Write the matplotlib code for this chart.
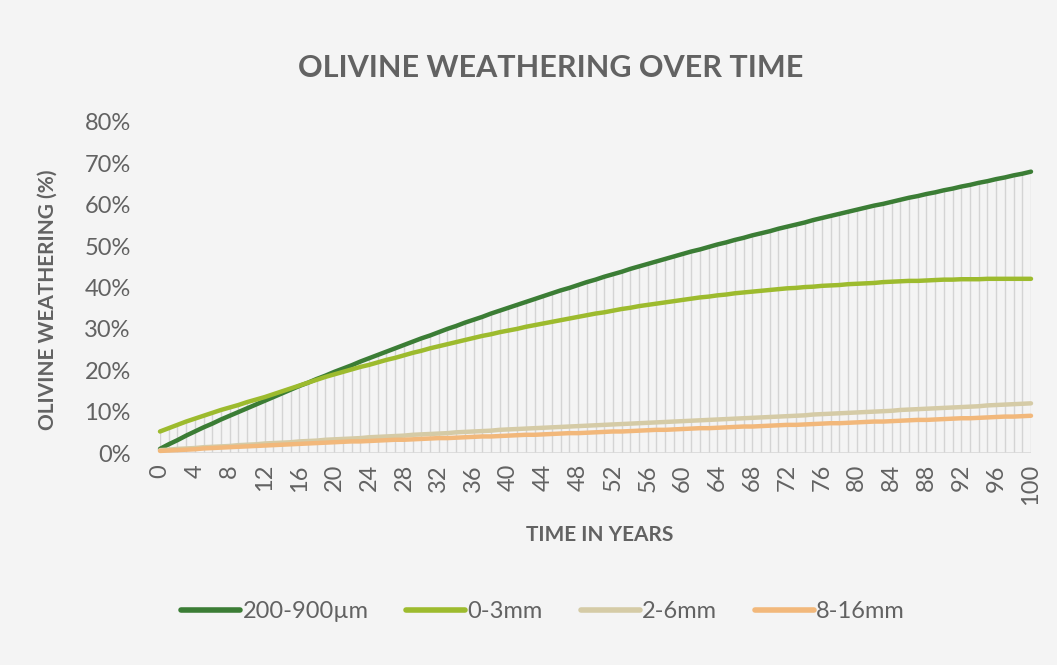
import matplotlib
matplotlib.use('Agg')
from matplotlib import pyplot as plt
from matplotlib.ticker import PercentFormatter

years = list(range(0, 101))

fine_200_900um = [
    1.0, 2.1, 3.1, 4.2, 5.2, 6.2, 7.1, 8.1, 9.0, 9.9,
    10.8, 11.7, 12.6, 13.5, 14.4, 15.3, 16.2, 17.0, 17.9, 18.7,
    19.6, 20.4, 21.2, 22.1, 22.9, 23.7, 24.5, 25.3, 26.1, 26.9,
    27.7, 28.4, 29.2, 30.0, 30.7, 31.5, 32.2, 32.9, 33.7, 34.4,
    35.1, 35.8, 36.5, 37.2, 37.9, 38.6, 39.3, 39.9, 40.6, 41.3,
    41.9, 42.6, 43.2, 43.8, 44.5, 45.1, 45.7, 46.3, 46.9, 47.5,
    48.1, 48.7, 49.2, 49.8, 50.4, 50.9, 51.5, 52.0, 52.6, 53.1,
    53.6, 54.2, 54.7, 55.2, 55.7, 56.3, 56.8, 57.3, 57.8, 58.3,
    58.8, 59.3, 59.8, 60.2, 60.7, 61.2, 61.7, 62.1, 62.6, 63.0,
    63.5, 63.9, 64.4, 64.8, 65.3, 65.7, 66.2, 66.6, 67.1, 67.5,
    68.0]

size_0_3mm = [
    5.2, 6.0, 6.8, 7.6, 8.3, 9.0, 9.7, 10.4, 11.0, 11.6,
    12.3, 12.9, 13.5, 14.2, 14.9, 15.6, 16.3, 17.0, 17.7, 18.4,
    19.0, 19.6, 20.2, 20.8, 21.3, 21.9, 22.5, 23.0, 23.6, 24.2,
    24.7, 25.3, 25.8, 26.3, 26.8, 27.3, 27.8, 28.3, 28.7, 29.2,
    29.6, 30.0, 30.5, 30.9, 31.3, 31.7, 32.1, 32.5, 32.9, 33.3,
    33.7, 34.0, 34.4, 34.8, 35.1, 35.5, 35.8, 36.1, 36.4, 36.7,
    37.0, 37.3, 37.6, 37.8, 38.1, 38.3, 38.6, 38.8, 39.0, 39.2,
    39.4, 39.6, 39.8, 39.9, 40.1, 40.2, 40.4, 40.5, 40.6, 40.8,
    40.9, 41.0, 41.1, 41.3, 41.4, 41.5, 41.6, 41.6, 41.7, 41.8,
    41.9, 41.9, 42.0, 42.0, 42.0, 42.1, 42.1, 42.1, 42.1, 42.1,
    42.1]

size_2_6mm = [
    0.7, 0.8, 1.0, 1.1, 1.2, 1.4, 1.5, 1.6, 1.7, 1.9,
    2.0, 2.1, 2.3, 2.4, 2.5, 2.6, 2.8, 2.9, 3.0, 3.2,
    3.3, 3.4, 3.5, 3.6, 3.8, 3.9, 4.0, 4.1, 4.2, 4.4,
    4.5, 4.6, 4.7, 4.8, 5.0, 5.1, 5.2, 5.3, 5.4, 5.6,
    5.7, 5.8, 5.9, 6.0, 6.1, 6.2, 6.3, 6.4, 6.5, 6.6,
    6.7, 6.8, 6.9, 7.0, 7.1, 7.2, 7.3, 7.4, 7.5, 7.6,
    7.7, 7.8, 7.9, 8.0, 8.1, 8.2, 8.3, 8.4, 8.5, 8.6,
    8.7, 8.8, 8.9, 9.0, 9.1, 9.3, 9.4, 9.5, 9.6, 9.7,
    9.8, 9.9, 10.0, 10.1, 10.2, 10.4, 10.5, 10.6, 10.7, 10.8,
    10.9, 11.0, 11.1, 11.2, 11.3, 11.5, 11.6, 11.7, 11.8, 11.9,
    12.0]

size_8_16mm = [
    0.5, 0.6, 0.7, 0.8, 0.9, 1.1, 1.2, 1.3, 1.4, 1.5,
    1.6, 1.7, 1.8, 1.9, 2.0, 2.1, 2.2, 2.3, 2.4, 2.5,
    2.6, 2.7, 2.8, 2.8, 2.9, 3.0, 3.1, 3.2, 3.2, 3.3,
    3.4, 3.5, 3.6, 3.6, 3.7, 3.8, 3.9, 4.0, 4.0, 4.1,
    4.2, 4.3, 4.4, 4.4, 4.5, 4.6, 4.7, 4.8, 4.8, 4.9,
    5.0, 5.1, 5.2, 5.2, 5.3, 5.4, 5.5, 5.6, 5.6, 5.7,
    5.8, 5.9, 6.0, 6.0, 6.1, 6.2, 6.3, 6.4, 6.4, 6.5,
    6.6, 6.7, 6.8, 6.8, 6.9, 7.0, 7.1, 7.2, 7.2, 7.3,
    7.4, 7.5, 7.6, 7.6, 7.7, 7.8, 7.9, 8.0, 8.0, 8.1,
    8.2, 8.3, 8.4, 8.4, 8.5, 8.6, 8.7, 8.8, 8.8, 8.9,
    9.0]

series_names = ['200-900µm', '0-3mm', '2-6mm', '8-16mm']
series_colors = ['#3b7d35', '#9dbb2e', '#d5cba6', '#f2b87b']

bg = '#f4f4f4'
txt = '#626262'
plt.rcParams['font.family'] = ['Lato', 'DejaVu Sans']

fig = plt.figure(figsize=(10.57, 6.65), dpi=100, facecolor=bg)
ax = fig.add_axes([160 / 1057, 212 / 665, 871 / 1057, 331 / 665])
ax.set_facecolor(bg)

all_series = [fine_200_900um, size_0_3mm, size_2_6mm, size_8_16mm]
tops = [max(v) for v in zip(*all_series)]
ax.vlines(years, 0, tops, color='#d4d4d4', linewidth=1.0, zorder=1)
ax.axhline(0, color='#d9d9d9', linewidth=1.2, zorder=1)

for vals, name, col in zip(all_series, series_names, series_colors):
    ax.plot(years, vals, color=col, linewidth=3.2, label=name,
            solid_capstyle='round', clip_on=False, zorder=3)

ax.set_xlim(0, 100)
ax.set_ylim(0, 80)
ax.yaxis.set_major_formatter(PercentFormatter(decimals=0))
ax.set_yticks(range(0, 81, 10))
ax.set_xticks(range(0, 101, 4))
ax.tick_params(axis='y', length=0, pad=21, labelsize=17, labelcolor=txt)
ax.tick_params(axis='x', length=0, pad=8, labelsize=17, labelcolor=txt,
               labelrotation=90)
for s in ax.spines.values():
    s.set_visible(False)

fig.text(551 / 1057, 1 - 68 / 665, 'OLIVINE WEATHERING OVER TIME',
         ha='center', va='center', fontsize=22, fontweight='bold', color=txt)
fig.text(600 / 1057, 1 - 535 / 665, 'TIME IN YEARS', ha='center', va='center',
         fontsize=15, fontweight='bold', color=txt)
fig.text(48 / 1057, 1 - 300 / 665, 'OLIVINE WEATHERING (%)', ha='center',
         va='center', rotation=90, fontsize=15, fontweight='bold', color=txt)

leg = fig.legend(loc='center', bbox_to_anchor=(543 / 1057, 1 - 612 / 665),
                 ncol=4, frameon=False, fontsize=17, handlelength=2.5,
                 handletextpad=0.1, columnspacing=1.6, labelcolor=txt)
for ln in leg.get_lines():
    ln.set_linewidth(4)

fig.savefig('out.png', dpi=100, facecolor=bg)
